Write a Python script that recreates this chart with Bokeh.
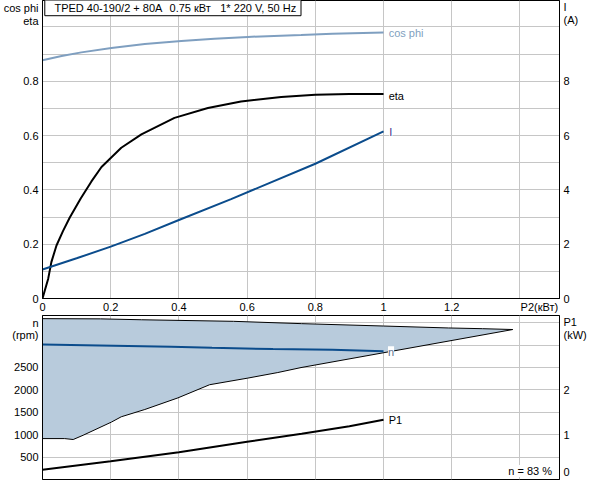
from bokeh.plotting import figure
from bokeh.models import Range1d, LinearAxis, FixedTicker, Label, AllLabels, Grid
from bokeh.layouts import column
from bokeh.embed import file_html
from bokeh.resources import INLINE

FONT = "Liberation Sans"
FS = "11px"

# ---------------- data ----------------
title_parts = ["TPED 40-190/2 + 80A", "0.75 кВт", "1* 220 V, 50 Hz"]

x_ticks = [0, 0.2, 0.4, 0.6, 0.8, 1.0, 1.2]
x_tick_labels = ["0", "0.2", "0.4", "0.6", "0.8", "1", "1.2"]
x_unit_label = "P2(кВт)"

cos_p2 = [0, 0.056, 0.114, 0.202, 0.30, 0.407, 0.504, 0.602, 0.758, 0.85, 1.0]
cos_phi = [0.877, 0.893, 0.906, 0.922, 0.937, 0.948, 0.956, 0.963, 0.970, 0.975, 0.979]

eta_p2 = [0, 0.0167, 0.026, 0.041, 0.06, 0.08, 0.112, 0.143, 0.173, 0.231, 0.29,
          0.387, 0.485, 0.582, 0.70, 0.8, 0.9, 1.0]
eta = [0, 0.073, 0.134, 0.195, 0.248, 0.298, 0.368, 0.430, 0.484, 0.555, 0.604,
       0.665, 0.701, 0.725, 0.742, 0.750, 0.753, 0.753]

i_p2 = [0, 0.1, 0.2, 0.3, 0.4, 0.553, 0.8, 1.0]
i_amp = [1.07, 1.48, 1.91, 2.38, 2.89, 3.66, 4.96, 6.15]

band_top_p2 = [0, 0.17, 0.29, 0.56, 0.76, 1.0, 1.19, 1.29, 1.379]
band_top_rpm = [3590, 3585, 3565, 3530, 3478, 3425, 3382, 3366, 3347]
band_bot_p2 = [0, 0.065, 0.09, 0.119, 0.202, 0.231, 0.30, 0.397, 0.49, 0.602, 0.69, 0.758, 1.379]
band_bot_rpm = [913, 913, 892, 987, 1281, 1400, 1562, 1821, 2115, 2263, 2387, 2498, 3347]

n_p2 = [0, 0.167, 0.378, 0.497, 0.676, 0.85, 1.0]
n_rpm = [3015, 2993, 2962, 2940, 2912, 2895, 2861]

p1_p2 = [0, 0.2, 0.4, 0.6, 0.76, 0.9, 1.0]
p1_kw = [0.22, 0.405, 0.61, 0.84, 1.02, 1.19, 1.334]

eff_text = "n   = 83 %"

# ---------------- colours ----------------
GRID = "#C6C6C6"
COS_C = "#7F9FC0"
I_C = "#0B4C8C"
BAND_C = "#B8CBDC"


def style_axis(ax):
    ax.major_tick_line_color = None
    ax.minor_tick_line_color = None
    ax.major_tick_out = 0
    ax.major_tick_in = 0
    ax.minor_tick_out = 0
    ax.minor_tick_in = 0
    ax.major_label_text_font = FONT
    ax.major_label_text_font_size = FS
    ax.major_label_text_color = "black"
    ax.major_label_standoff = 4
    ax.axis_line_color = "black"
    ax.axis_line_width = 1
    ax.major_label_policy = AllLabels()


def lab(p, x, y, text, color="black", align="left", yrn="default"):
    p.add_layout(Label(x=x, y=y, text=text, text_color=color, text_font=FONT,
                       text_font_size=FS, text_baseline="middle", text_align=align,
                       background_fill_color="white", y_range_name=yrn))


def set_grids(p, xt, yt, yrn="default"):
    p.center = [r for r in p.center if not isinstance(r, Grid)]
    p.add_layout(Grid(dimension=0, ticker=FixedTicker(ticks=xt), grid_line_color=GRID,
                      grid_line_width=1), "center")
    p.add_layout(Grid(dimension=1, ticker=FixedTicker(ticks=yt), grid_line_color=GRID,
                      grid_line_width=1, y_range_name=yrn), "center")


XR = (0, 1.516)
XGRID = [0.2, 0.4, 0.6, 0.8, 1.0, 1.2, 1.4]

# ---------------- top figure ----------------
top = figure(width=592, height=315, x_range=Range1d(*XR), y_range=Range1d(0, 1.097),
             output_backend="svg", toolbar_location=None,
             min_border_left=41, min_border_right=33, min_border_top=0, min_border_bottom=15)
top.extra_y_ranges = {"i": Range1d(0, 10.97)}
top.outline_line_color = "black"
set_grids(top, XGRID, [round(0.1 * k, 1) for k in range(1, 11)])

xax = top.xaxis[0]
style_axis(xax)
xax.ticker = FixedTicker(ticks=x_ticks + [1.457])
xax.major_label_overrides = {**{t: l for t, l in zip(x_ticks, x_tick_labels)}, 1.457: x_unit_label}
xax.major_label_standoff = 2

lax = top.yaxis[0]
style_axis(lax)
lax.ticker = FixedTicker(ticks=[0, 0.2, 0.4, 0.6, 0.8, 1.022, 1.068])
lax.major_label_overrides = {0: "0", 0.2: "0.2", 0.4: "0.4", 0.6: "0.6", 0.8: "0.8",
                             1.022: "eta", 1.068: "cos phi"}

rax = LinearAxis(y_range_name="i")
style_axis(rax)
rax.ticker = FixedTicker(ticks=[0, 2, 4, 6, 8, 10.24, 10.73])
rax.major_label_overrides = {0: "0", 2: "2", 4: "4", 6: "6", 8: "8", 10.24: "(A)", 10.73: "I"}
top.add_layout(rax, "right")

top.line(cos_p2, cos_phi, line_color=COS_C, line_width=2)
top.line(eta_p2, eta, line_color="black", line_width=2)
top.line(i_p2, i_amp, line_color=I_C, line_width=2, y_range_name="i")

lab(top, 1.015, 0.977, "cos phi", COS_C)
lab(top, 1.015, 0.746, "eta", "black")
lab(top, 1.017, 6.13, "I", "#3A2E8C", yrn="i")

# title box
top.quad(left=[0.0067], right=[0.758], bottom=[1.041], top=[1.2],
         fill_color="white", line_color="black", line_width=1)
for xt, txt in zip([0.035, 0.3726, 0.521], title_parts):
    top.add_layout(Label(x=xt, y=1.068, text=txt, text_font=FONT, text_font_size=FS,
                         text_baseline="middle", text_align="left", text_color="black"))

# ---------------- bottom figure ----------------
bot = figure(width=592, height=165, x_range=top.x_range, y_range=Range1d(0, 3660),
             output_backend="svg", toolbar_location=None, x_axis_location=None,
             min_border_left=41, min_border_right=33, min_border_top=0, min_border_bottom=1)
bot.extra_y_ranges = {"p1": Range1d(0, 3.66)}
bot.outline_line_color = "black"
set_grids(bot, XGRID, [500 * k for k in range(1, 8)])

blax = bot.yaxis[0]
style_axis(blax)
bticks = [500, 1000, 1500, 2000, 2500]
blax.ticker = FixedTicker(ticks=bticks + [3221, 3493])
blax.major_label_overrides = {**{t: str(t) for t in bticks}, 3221: "(rpm)", 3493: "n"}

brax = LinearAxis(y_range_name="p1")
style_axis(brax)
brax.ticker = FixedTicker(ticks=[0.157, 1, 2, 3.22, 3.51])
brax.major_label_overrides = {0.157: "0", 1: "1", 2: "2", 3.22: "(kW)", 3.51: "P1"}
bot.add_layout(brax, "right")

poly_x = band_top_p2 + band_bot_p2[::-1]
poly_y = band_top_rpm + band_bot_rpm[::-1]
bot.patch(poly_x, poly_y, fill_color=BAND_C, line_color=None)
bot.line(band_top_p2, band_top_rpm, line_color="black", line_width=1)
bot.line(band_bot_p2, band_bot_rpm, line_color="black", line_width=1)
bot.line(n_p2, n_rpm, line_color=I_C, line_width=2)
bot.line(p1_p2, p1_kw, line_color="black", line_width=2, y_range_name="p1")

lab(bot, 1.013, 2840, "n", "#5A6E8C")
lab(bot, 1.015, 1.33, "P1", "black", yrn="p1")
lab(bot, 1.512, 190, eff_text, "black", align="right")

layout = column(top, bot, spacing=0)
open("out.html", "w").write(file_html(layout, INLINE))
